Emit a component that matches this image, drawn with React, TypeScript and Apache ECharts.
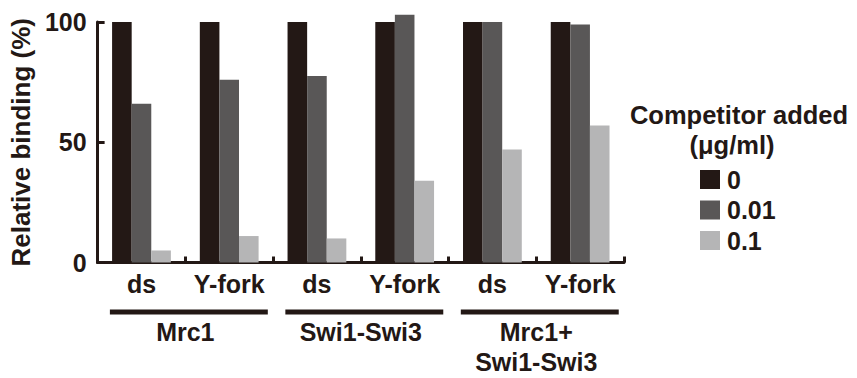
import React, { useEffect, useRef } from "react";
import * as echarts from "echarts";

const categories = ["ds", "Y-fork", "ds", "Y-fork", "ds", "Y-fork"];
const groups = ["Mrc1", "Swi1-Swi3", "Mrc1+\nSwi1-Swi3"];
const groupSpans = [
  [0, 1],
  [2, 3],
  [4, 5],
];
const seriesNames = ["0", "0.01", "0.1"];
const conc0 = [100, 100, 100, 100, 100, 100];
const conc001 = [66, 76, 77.5, 103, 100, 99];
const conc01 = [5, 11, 10, 34, 47, 57];
const yTicks = { min: 0, max: 100, interval: 50 };

const INK = "#231815";
const colors = ["#231815", "#595757", "#b5b5b6"];
const FONT = "'Liberation Sans', Arial, Helvetica, sans-serif";

export default function App() {
  const ref = useRef<HTMLDivElement>(null);
  useEffect(() => {
    if (!ref.current) return;
    const chart = echarts.init(ref.current, null, { renderer: "svg" });
    const values = [conc0, conc001, conc01];
    chart.setOption({
      animation: false,
      textStyle: { fontFamily: FONT },
      grid: { left: 95, right: 233, top: 22, bottom: 115.5, containLabel: false },
      legend: {
        data: seriesNames,
        orient: "vertical",
        left: 700,
        top: 167,
        padding: 0,
        itemWidth: 20,
        itemHeight: 19,
        itemGap: 5.5,
        icon: "rect",
        selectedMode: false,
        textStyle: {
          fontFamily: FONT,
          fontWeight: "bold",
          fontSize: 25,
          color: INK,
          padding: [0, 0, 0, 2],
        },
      },
      graphic: [
        {
          type: "text",
          x: 739,
          y: 115,
          style: {
            text: "Competitor added",
            font: `bold 25.5px ${FONT}`,
            fill: INK,
            align: "center",
            verticalAlign: "middle",
          },
        },
        {
          type: "text",
          x: 732,
          y: 145,
          style: {
            text: "(\u03bcg/ml)",
            font: `bold 25.5px ${FONT}`,
            fill: INK,
            align: "center",
            verticalAlign: "middle",
          },
        },
      ],
      xAxis: [
        {
          type: "category",
          data: categories,
          axisLine: { lineStyle: { color: INK, width: 3 } },
          axisTick: { show: true, inside: true, length: 6, lineStyle: { color: INK, width: 3 } },
          axisLabel: {
            color: INK,
            fontWeight: "bold",
            fontSize: 25,
            fontFamily: FONT,
            margin: 9,
            interval: 0,
          },
        },
        {
          type: "category",
          data: groups,
          position: "bottom",
          offset: 46,
          axisLine: { show: false },
          axisTick: { show: false },
          axisLabel: {
            color: INK,
            fontWeight: "bold",
            fontSize: 25,
            fontFamily: FONT,
            lineHeight: 30,
            margin: 8,
            interval: 0,
          },
        },
      ],
      yAxis: {
        type: "value",
        min: yTicks.min,
        max: yTicks.max,
        interval: yTicks.interval,
        name: "Relative binding (%)",
        nameLocation: "middle",
        nameGap: 59,
        nameTextStyle: { color: INK, fontWeight: "bold", fontSize: 26, fontFamily: FONT },
        axisLine: { show: true, lineStyle: { color: INK, width: 3 } },
        axisTick: { show: true, inside: true, length: 7, lineStyle: { color: INK, width: 3 } },
        axisLabel: { color: INK, fontWeight: "bold", fontSize: 25, fontFamily: FONT, margin: 11 },
        splitLine: { show: false },
      },
      series: [
        ...seriesNames.map((name, i) => ({
          name,
          type: "bar",
          data: values[i],
          barGap: "0%",
          barCategoryGap: "33%",
          clip: false,
          itemStyle: { color: colors[i] },
        })),
        {
          type: "custom",
          xAxisIndex: 0,
          data: groupSpans,
          clip: false,
          silent: true,
          renderItem: (_params: any, api: any) => {
            const bw = api.size([1, 0])[0];
            const s = api.coord([api.value(0), 0]);
            const e = api.coord([api.value(1), 0]);
            const x1 = s[0] - bw / 2 + bw * 0.14;
            const x2 = e[0] + bw / 2 - bw * 0.06;
            const y = s[1] + 49.5;
            return {
              type: "line",
              shape: { x1, y1: y, x2, y2: y },
              style: { stroke: INK, lineWidth: 5 },
            };
          },
        },
      ],
    });
    return () => chart.dispose();
  }, []);
  return (
    <div
      ref={ref}
      style={{ position: "fixed", left: 0, top: 0, width: 857, height: 378, background: "#fff" }}
    />
  );
}
